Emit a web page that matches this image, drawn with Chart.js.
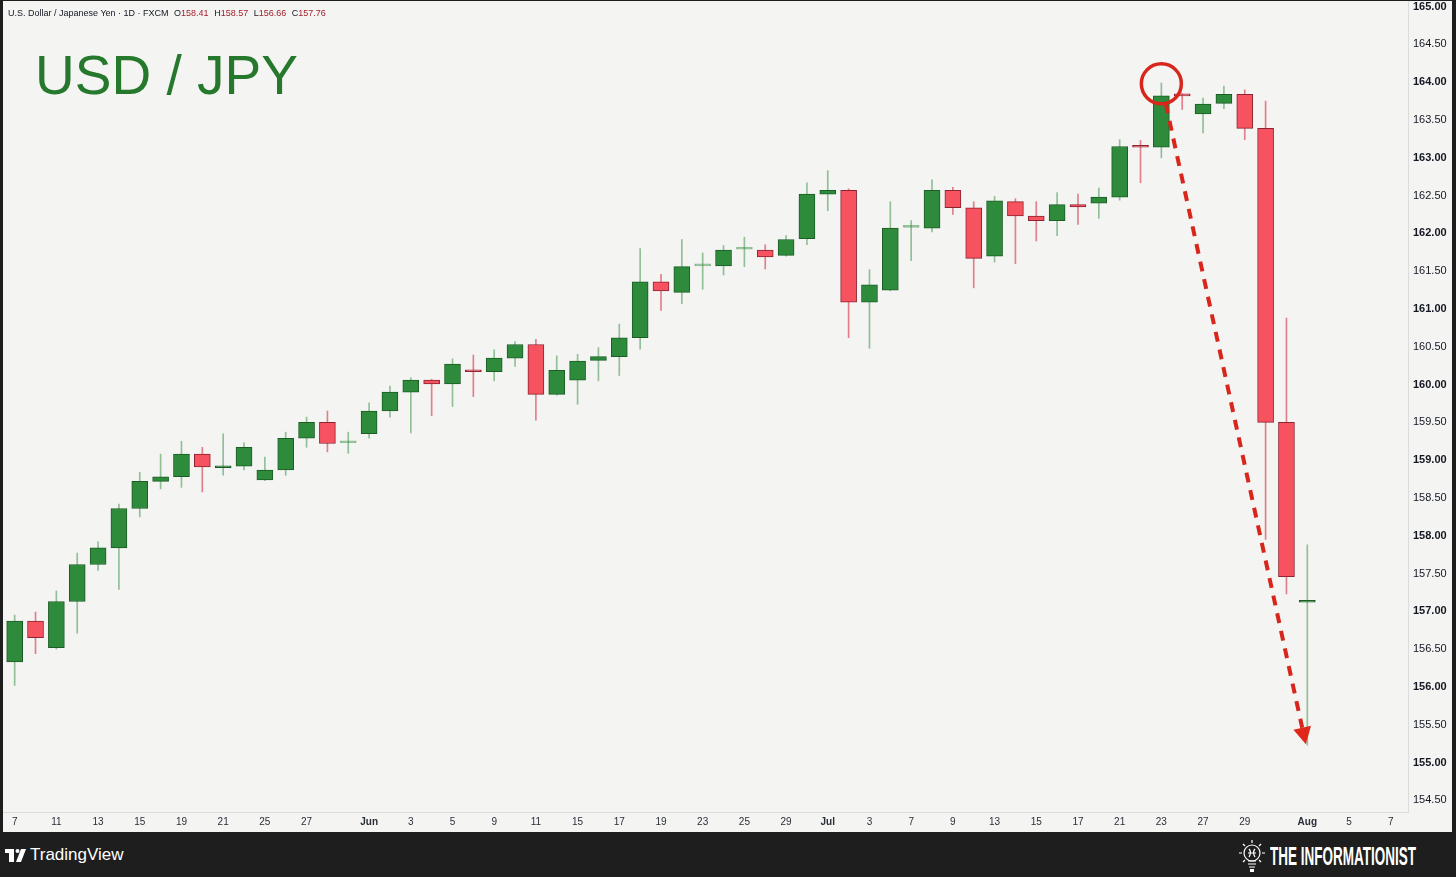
<!DOCTYPE html>
<html>
<head>
<meta charset="utf-8">
<title>USD / JPY</title>
<script src="https://cdn.jsdelivr.net/npm/chart.js@4.4.1/dist/chart.umd.min.js"></script>
<style>
    html, body { margin: 0; padding: 0; }
    body {
        width: 1456px; height: 877px; overflow: hidden; position: relative;
        background: #1e1e1e;
        font-family: "Liberation Sans", Arial, sans-serif;
    }
    #panel {
        position: absolute; left: 3px; top: 1px; width: 1449px; height: 831px;
        background: #f4f4f2;
    }
    #panel canvas { position: absolute; left: 0; top: 0; }
    #symbol {
        position: absolute; left: 5px; top: 8px; font-size: 9px; line-height: 9px;
        color: #131722; white-space: nowrap;
    }
    #symbol .ohlc { margin-left: 3px; }
    #symbol .v { color: #a3202f; }
    #title {
        position: absolute; left: 32px; top: 47px; font-size: 55px; line-height: 55px;
        color: #25782c; white-space: nowrap;
    }
    #tv {
        position: absolute; left: 5px; top: 845px; height: 20px; color: #fff;
        font-size: 17px; line-height: 20px; white-space: nowrap;
    }
    #tv svg { position: absolute; left: 0; top: 4px; }
    #tv span { position: absolute; left: 25px; top: 0; }
    #brand { position: absolute; left: 1238px; top: 838px; width: 200px; height: 38px; color: #fff; }
    #brand svg { position: absolute; left: 0; top: 0; }
    #brand span {
        position: absolute; left: 32px; top: 6px; font-size: 25px; line-height: 25px;
        font-weight: bold; white-space: nowrap; transform: scaleX(0.54); transform-origin: left center;
    }
</style>
</head>
<body>
<div id="panel">
    <canvas id="chart" width="1449" height="831"></canvas>
    <div id="symbol">U.S. Dollar / Japanese Yen · 1D · FXCM <span class="ohlc">O<span class="v">158.41</span></span> <span class="ohlc">H<span class="v">158.57</span></span> <span class="ohlc">L<span class="v">156.66</span></span> <span class="ohlc">C<span class="v">157.76</span></span></div>
    <div id="title">USD / JPY</div>
</div>

<div id="tv">
    <svg width="21" height="13" viewBox="0 0 21 13">
        <rect x="0" y="0" width="9" height="4" fill="#fff"/>
        <rect x="4" y="0" width="5" height="13" fill="#fff"/>
        <circle cx="12.5" cy="2" r="2" fill="#fff"/>
        <polygon points="16,0 21,0 16,13 11,13" fill="#fff"/>
    </svg>
    <span>TradingView</span>
</div>

<div id="brand">
    <svg width="28" height="38" viewBox="0 0 28 38">
        <g stroke="#fff" stroke-width="1.2" fill="none">
            <circle cx="14" cy="15" r="8"/>
            <path d="M11 11 q3 3 0 8 M17 11 q-3 3 0 8 M10 15 h8"/>
            <path d="M14 2 v3 M5 6 l2 2 M23 6 l-2 2 M1 15 h3 M24 15 h3 M5 24 l2 -2 M23 24 l-2 -2"/>
            <path d="M10 23 h8 M10 26 h8 M11 29 h6"/>
        </g>
        <rect x="12" y="31" width="4" height="3" fill="#fff"/>
    </svg>
    <span>THE INFORMATIONIST</span>
</div>

<script>
// --- Daily candles (USD/JPY) ---
const opens  = [156.33, 156.87, 156.52, 157.13, 157.62, 157.84, 158.36, 158.72, 158.78, 159.08,
                158.90, 158.92, 158.74, 158.87, 159.29, 159.50, 159.23, 159.35, 159.65, 159.90,
                160.06, 160.01, 160.19, 160.17, 160.35, 160.53, 159.87, 160.06, 160.32, 160.37,
                160.62, 161.36, 161.22, 161.57, 161.57, 161.79, 161.78, 161.71, 161.93, 162.52,
                162.57, 161.09, 161.25, 162.08, 162.07, 162.57, 162.34, 161.70, 162.42, 162.23,
                162.17, 162.38, 162.40, 162.48, 163.16, 163.14, 163.84, 163.58, 163.72, 163.84,
                163.39, 159.50, 157.12];
const highs  = [156.95, 156.99, 157.27, 157.77, 157.92, 158.42, 158.84, 159.08, 159.25, 159.17,
                159.35, 159.23, 159.04, 159.37, 159.57, 159.65, 159.37, 159.76, 159.98, 160.09,
                160.07, 160.34, 160.39, 160.46, 160.57, 160.60, 160.38, 160.40, 160.49, 160.80,
                161.80, 161.46, 161.92, 161.74, 161.84, 161.95, 161.85, 161.97, 162.67, 162.83,
                162.59, 161.52, 162.42, 162.17, 162.71, 162.61, 162.42, 162.49, 162.46, 162.42,
                162.54, 162.52, 162.60, 163.24, 163.23, 163.99, 163.85, 163.79, 163.95, 163.90,
                163.75, 160.88, 157.88];
const lows   = [156.02, 156.44, 156.50, 156.71, 157.54, 157.29, 158.25, 158.62, 158.64, 158.58,
                158.80, 158.87, 158.73, 158.80, 159.17, 159.11, 159.09, 159.29, 159.57, 159.36,
                159.59, 159.71, 159.84, 160.05, 160.24, 159.53, 159.86, 159.74, 160.05, 160.12,
                160.47, 160.98, 161.07, 161.26, 161.45, 161.56, 161.53, 161.70, 161.85, 162.30,
                160.62, 160.48, 161.24, 161.64, 162.02, 162.25, 161.28, 161.62, 161.60, 161.90,
                161.97, 162.12, 162.20, 162.44, 162.67, 163.00, 163.64, 163.33, 163.65, 163.24,
                157.95, 157.23, 155.23];
const closes = [156.87, 156.65, 157.13, 157.62, 157.84, 158.36, 158.72, 158.78, 159.08, 158.91,
                158.92, 159.17, 158.87, 159.29, 159.50, 159.22, 159.23, 159.65, 159.90, 160.06,
                160.01, 160.27, 160.17, 160.35, 160.53, 159.87, 160.19, 160.31, 160.37, 160.62,
                161.36, 161.24, 161.56, 161.57, 161.78, 161.79, 161.69, 161.92, 162.52, 162.57,
                161.09, 161.32, 162.07, 162.08, 162.57, 162.34, 161.67, 162.43, 162.23, 162.17,
                162.38, 162.35, 162.48, 163.15, 163.14, 163.82, 163.82, 163.71, 163.84, 163.39,
                159.50, 157.46, 157.14];

// --- Axis ticks ---
const xTickIdx  = [0, 2, 4, 6, 8, 10, 12, 14, 17, 19, 21, 23, 25, 27, 29, 31, 33, 35, 37,
                   39, 41, 43, 45, 47, 49, 51, 53, 55, 57, 59, 62, 64, 66];
const xTickText = ["7", "11", "13", "15", "19", "21", "25", "27", "Jun", "3", "5", "9", "11", "15", "17", "19", "23", "25", "29",
                   "Jul", "3", "7", "9", "13", "15", "17", "21", "23", "27", "29", "Aug", "5", "7"];
const yTicks = [154.5, 155, 155.5, 156, 156.5, 157, 157.5, 158, 158.5, 159, 159.5,
                160, 160.5, 161, 161.5, 162, 162.5, 163, 163.5, 164, 164.5, 165];

// --- Annotation anchors (candle index, price) ---
const peakIdx = 55, peakPrice = 163.98;
const targetIdx = 61.93, targetPrice = 155.24;

// --- Colours ---
const UP = "#2e8b3b", UP_EDGE = "#1c5c25", UP_WICK = "rgba(46, 139, 59, 0.5)";
const DOWN = "#f7525f", DOWN_EDGE = "#8e2331", DOWN_WICK = "rgba(214, 48, 70, 0.6)";
const FONT = '"Liberation Sans", Arial, sans-serif';

const bodies = opens.map((o, i) => ({ x: i, y: [o, closes[i]] }));
const wicks = lows.map((l, i) => ({ x: i, y: [l, highs[i]] }));

function dir(i) {
    return closes[i] > opens[i] ? 1 : closes[i] < opens[i] ? -1 : 0;
}

// keep the plot edge-to-edge: labels at the ends may overhang
function noPadding(s) {
    s.paddingTop = 0;
    s.paddingBottom = 0;
    s.paddingLeft = 0;
    s.paddingRight = 0;
}

// red circle at the top + dashed arrow down to the low
const arrowPlugin = {
    id: "arrow",
    afterDatasetsDraw(chart) {
        const { ctx, scales: { x, y } } = chart;
        const cx = x.getPixelForValue(peakIdx), cy = y.getPixelForValue(peakPrice);
        const tx = x.getPixelForValue(targetIdx), ty = y.getPixelForValue(targetPrice);
        const r = 20;
        const len = Math.hypot(tx - cx, ty - cy);
        const ux = (tx - cx) / len, uy = (ty - cy) / len;
        const head = 17, half = 9;

        ctx.save();
        ctx.strokeStyle = "#d8261c";
        ctx.fillStyle = "#e0281a";

        // circle
        ctx.lineWidth = 3.5;
        ctx.beginPath();
        ctx.arc(cx, cy, r, 0, Math.PI * 2);
        ctx.stroke();

        // dashed shaft
        ctx.lineWidth = 4;
        ctx.setLineDash([10, 8]);
        ctx.beginPath();
        ctx.moveTo(cx + ux * r, cy + uy * r);
        ctx.lineTo(tx - ux * head, ty - uy * head);
        ctx.stroke();

        // head
        ctx.setLineDash([]);
        const bx = tx - ux * head, by = ty - uy * head;
        ctx.beginPath();
        ctx.moveTo(tx, ty);
        ctx.lineTo(bx - uy * half, by + ux * half);
        ctx.lineTo(bx + uy * half, by - ux * half);
        ctx.closePath();
        ctx.fill();
        ctx.restore();
    }
};

new Chart(document.getElementById("chart"), {
    type: "bar",
    data: {
        datasets: [
            {
                label: "body",
                data: bodies,
                grouped: false,
                barThickness: 16,
                minBarLength: 2,
                borderWidth: 1,
                borderSkipped: false,
                backgroundColor: c => [DOWN, UP_WICK, UP][dir(c.dataIndex) + 1],
                borderColor: c => [DOWN_EDGE, UP_WICK, UP_EDGE][dir(c.dataIndex) + 1]
            },
            {
                label: "wick",
                data: wicks,
                grouped: false,
                barThickness: 1,
                borderWidth: 0,
                backgroundColor: c => dir(c.dataIndex) < 0 ? DOWN_WICK : UP_WICK
            }
        ]
    },
    options: {
        responsive: false,
        animation: false,
        events: [],
        layout: { padding: 0 },
        plugins: { legend: { display: false }, tooltip: { enabled: false } },
        scales: {
            x: {
                type: "linear",
                min: -0.56,
                max: 66.83,
                offset: false,
                grid: { display: false, drawTicks: false },
                border: { display: true, color: "#dcdcdc" },
                afterFit: s => { s.height = 20; noPadding(s); },
                afterBuildTicks: s => { s.ticks = xTickIdx.map(v => ({ value: v })); },
                ticks: {
                    autoSkip: false,
                    maxRotation: 0,
                    padding: 4,
                    color: "#2a2e39",
                    callback: (v, i) => xTickText[i],
                    font: c => {
                        const t = c.index !== undefined ? xTickText[c.index] : "";
                        return { family: FONT, size: 10, weight: t && !/^\d+$/.test(t) ? "bold" : "normal" };
                    }
                }
            },
            y: {
                position: "right",
                min: 154.345,
                max: 165.075,
                grid: { display: false, drawTicks: false },
                border: { display: true, color: "#dcdcdc" },
                afterFit: s => { s.width = 44; noPadding(s); },
                afterBuildTicks: s => { s.ticks = yTicks.map(v => ({ value: v })); },
                ticks: {
                    padding: 5,
                    color: "#131722",
                    callback: v => v.toFixed(2),
                    font: c => ({ family: FONT, size: 11, weight: c.tick && Number.isInteger(c.tick.value) ? "bold" : "normal" })
                }
            }
        }
    },
    plugins: [arrowPlugin]
});
</script>
</body>
</html>
